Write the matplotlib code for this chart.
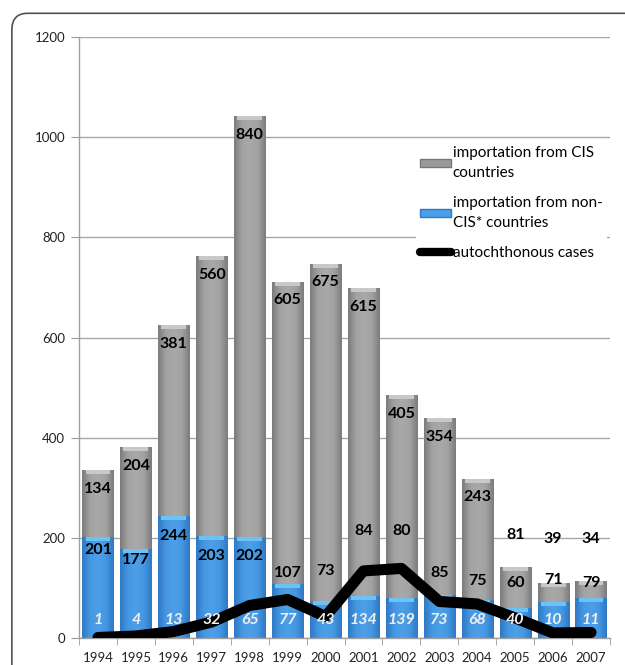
import numpy as np
import matplotlib
matplotlib.use("Agg")
import matplotlib.pyplot as plt
from matplotlib.colors import LinearSegmentedColormap
from matplotlib.patches import FancyBboxPatch, Patch
from matplotlib.lines import Line2D

years = ["1994", "1995", "1996", "1997", "1998", "1999", "2000",
         "2001", "2002", "2003", "2004", "2005", "2006", "2007"]
non_cis = [201, 177, 244, 203, 202, 107, 73, 84, 80, 85, 75, 60, 71, 79]
cis = [134, 204, 381, 560, 840, 605, 675, 615, 405, 354, 243, 81, 39, 34]
autochthonous = [1, 4, 13, 32, 65, 77, 43, 134, 139, 73, 68, 40, 10, 11]

# label anchor heights (text placement, as in the original figure)
noncis_label_y = [176, 156, 204, 164, 164, 130, 134, 214, 214, 130, 114, 110, 116, 110]
cis_label_y_small = {11: 206, 12: 198, 13: 198}
auto_label_y = 36

plt.rcParams['font.family'] = ['Lato', 'DejaVu Sans']

fig = plt.figure(figsize=(6.25, 6.65), dpi=100)
ax = fig.add_axes([0.1264, 0.0406, 0.976 - 0.1264, 0.944 - 0.0406])

# outer rounded frame
frame = FancyBboxPatch((0.019, -0.05), 1.1, 1.03, boxstyle="round,pad=0,rounding_size=0.025",
                       transform=fig.transFigure, facecolor='none', edgecolor='#505050',
                       linewidth=1.2, zorder=0)
fig.patches.append(frame)

x = np.arange(len(years))
w = 0.82
blue_bars = ax.bar(x, non_cis, width=w, color='#4595e0', zorder=2)
gray_bars = ax.bar(x, cis, width=w, bottom=non_cis, color='#9a9a9a', zorder=2)

cm_gray = LinearSegmentedColormap.from_list('g', ['#7c7c7c', '#a2a2a2', '#a9a9a9', '#a2a2a2', '#7c7c7c'])
cm_blue = LinearSegmentedColormap.from_list('b', ['#2f78c4', '#4597e2', '#4d9fe8', '#4597e2', '#2f78c4'])
grad = np.linspace(0, 1, 64).reshape(1, -1)
for bars, cm, topc in ((blue_bars, cm_blue, '#6cc2f2'), (gray_bars, cm_gray, '#c8c8c8')):
    for r in bars:
        bx, by, bw, bh = r.get_x(), r.get_y(), r.get_width(), r.get_height()
        im = ax.imshow(grad, extent=[bx, bx + bw, by, by + bh], aspect='auto', cmap=cm,
                       zorder=2.1, interpolation='bicubic')
        im.set_clip_path(r)
        bevel = min(8, bh * 0.5)
        ax.fill_between([bx + bw * 0.1, bx + bw * 0.9], by + bh - bevel, by + bh,
                        color=topc, zorder=2.2, linewidth=0)

ax.plot(x, autochthonous, color='black', linewidth=8, solid_capstyle='round',
        solid_joinstyle='round', zorder=3)

for i in range(len(years)):
    top = non_cis[i] + cis[i]
    cy = cis_label_y_small.get(i, top - 37)
    ax.text(x[i], cy, str(cis[i]), ha='center', va='center', fontsize=11.5,
            fontweight='bold', color='black', zorder=5)
    ax.text(x[i], noncis_label_y[i], str(non_cis[i]), ha='center', va='center',
            fontsize=11.5, fontweight='bold', color='black', zorder=5)
    ax.text(x[i], auto_label_y, str(autochthonous[i]), ha='center', va='center',
            fontsize=11.5, fontweight='bold', fontstyle='italic', color='#f0f0f0', zorder=5)

ax.set_xlim(-0.5, len(years) - 0.5)
ax.set_ylim(0, 1200)
ax.set_yticks(range(0, 1201, 200))
ax.set_xticks(x)
ax.set_xticklabels(years)
ax.set_xticks(np.arange(-0.5, len(years), 1), minor=True)
ax.tick_params(axis='x', which='major', length=0, labelsize=9.5, pad=10, colors='#222222')
ax.tick_params(axis='x', which='minor', length=5, color='#999999')
ax.tick_params(axis='y', length=6, labelsize=9.5, pad=4, colors='#999999', labelcolor='#222222')
ax.grid(axis='y', color='#a8a8a8', linewidth=1.0, zorder=0)
ax.set_axisbelow(True)
for s in ['top', 'right']:
    ax.spines[s].set_visible(False)
for s in ['left', 'bottom']:
    ax.spines[s].set_color('#a0a0a0')
    ax.spines[s].set_linewidth(1.0)

handles = [Patch(facecolor='#9a9a9a', edgecolor='#777777'),
           Patch(facecolor='#4aa0ea', edgecolor='#2f78c4'),
           Line2D([0], [0], color='black', linewidth=6, solid_capstyle='round')]
labels = ['importation from CIS\ncountries', 'importation from non-\nCIS* countries',
          'autochthonous cases']
leg = ax.legend(handles, labels, loc='upper left', bbox_to_anchor=(0.62, 0.84),
                fontsize=11, frameon=True, facecolor='white', edgecolor='none', framealpha=1,
                handlelength=2.0, handleheight=0.45, handletextpad=0.12, labelspacing=1.02,
                borderpad=0.3, fancybox=False)
for t in leg.get_texts():
    t.set_linespacing(1.6)
leg.set_zorder(6)

fig.savefig('out.png', dpi=100)
